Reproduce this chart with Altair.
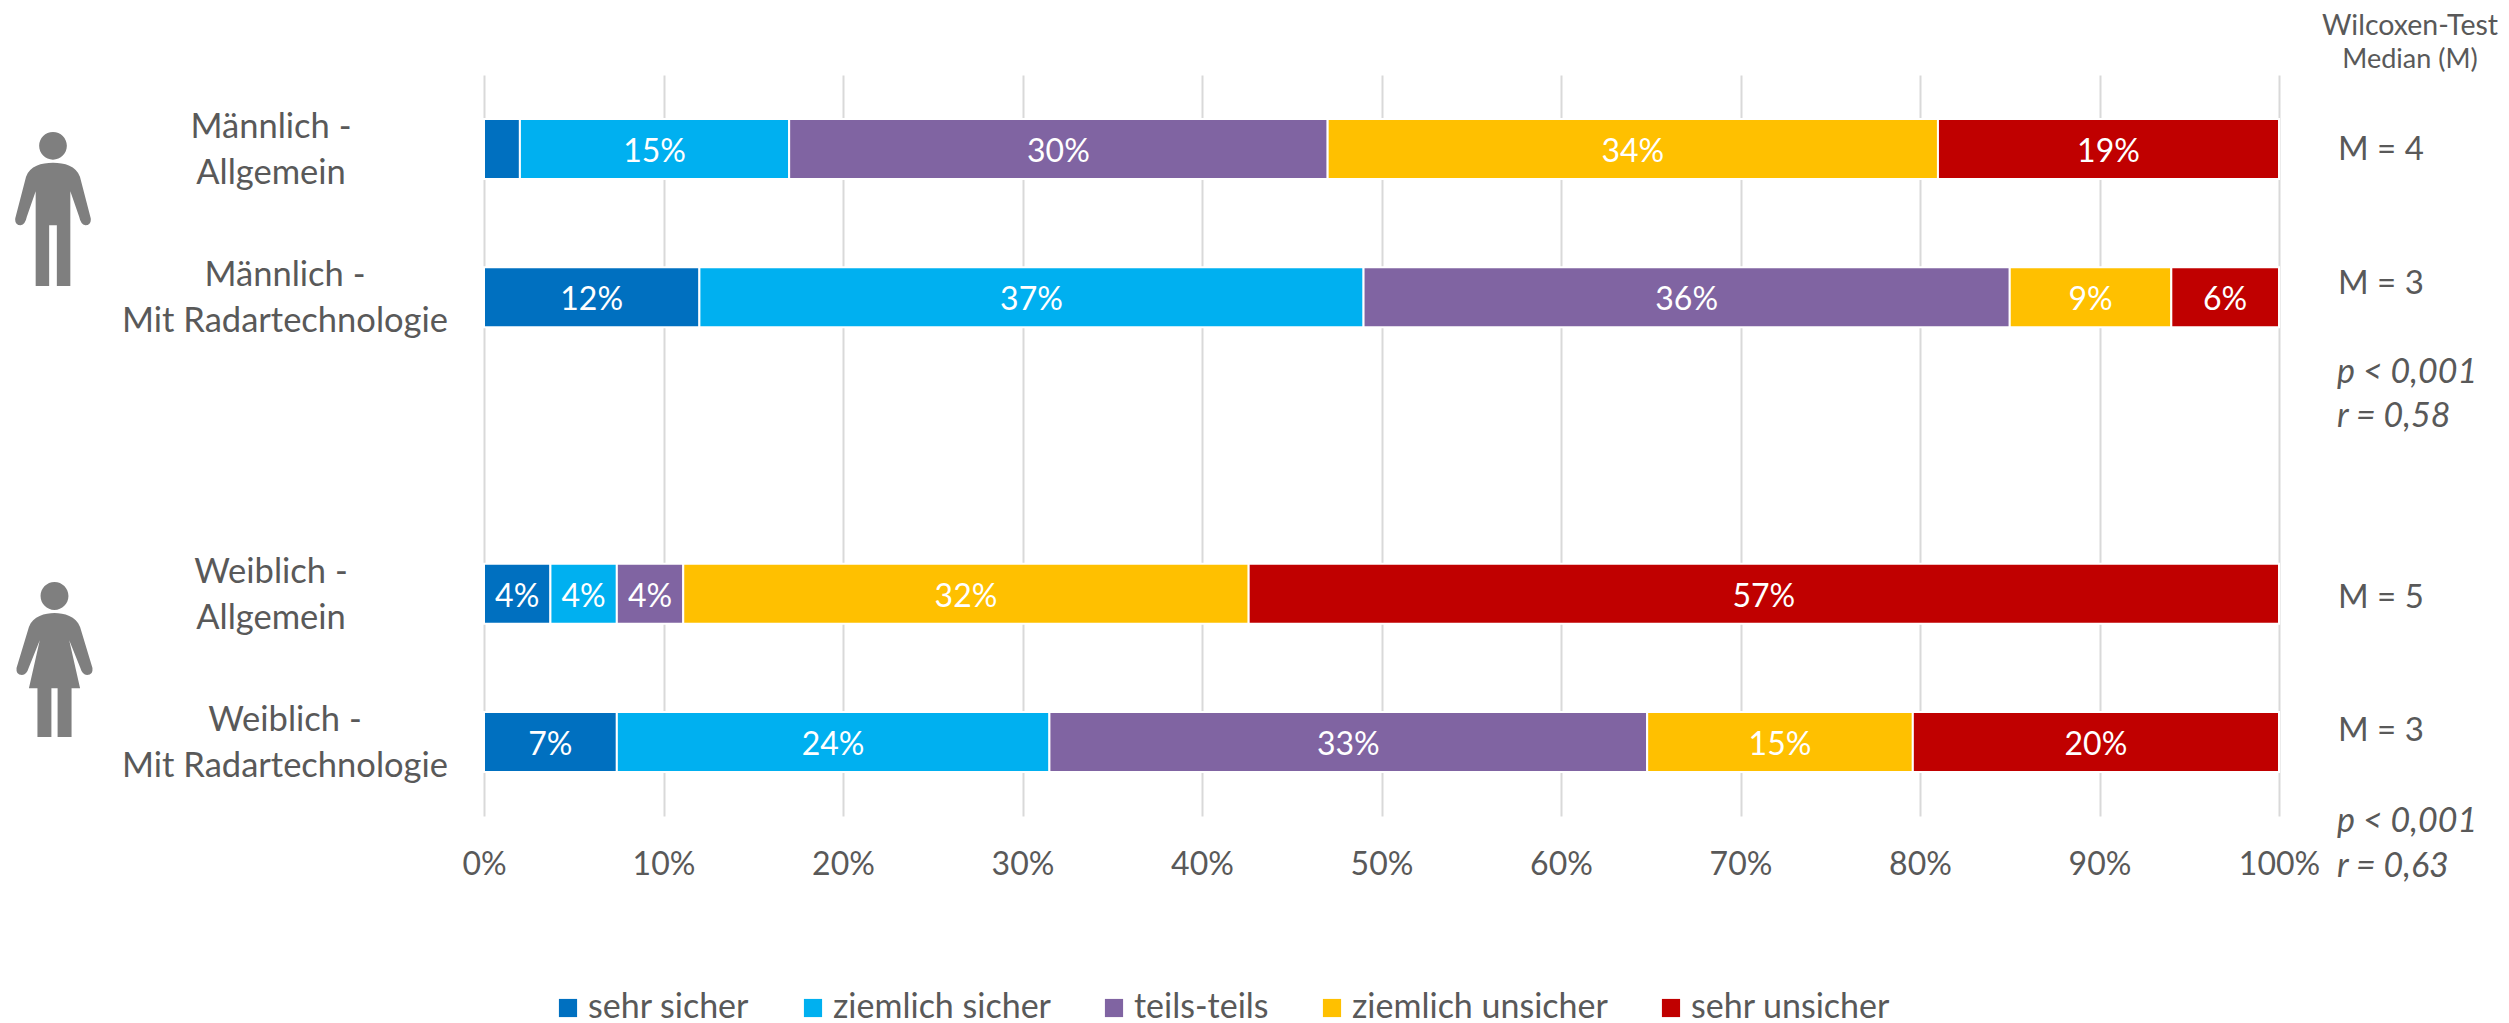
import altair as alt
import pandas as pd

CATEGORIES = ["Männlich - Allgemein", "Männlich - Mit Radartechnologie", " ",
              "Weiblich - Allgemein", "Weiblich - Mit Radartechnologie"]
SERIES = ["sehr sicher", "ziemlich sicher", "teils-teils", "ziemlich unsicher", "sehr unsicher"]
COLORS = ["#0070C0", "#00B0F0", "#8064A2", "#FFC000", "#C00000"]

MALE_GENERAL = [2.0, 15.0, 30.0, 34.0, 19.0]
MALE_RADAR = [12.0, 37.0, 36.0, 9.0, 6.0]
FEMALE_GENERAL = [3.7, 3.7, 3.7, 31.5, 57.4]
FEMALE_RADAR = [7.4, 24.1, 33.3, 14.8, 20.4]

MALE_GENERAL_LABELS = ["", "15%", "30%", "34%", "19%"]
MALE_RADAR_LABELS = ["12%", "37%", "36%", "9%", "6%"]
FEMALE_GENERAL_LABELS = ["4%", "4%", "4%", "32%", "57%"]
FEMALE_RADAR_LABELS = ["7%", "24%", "33%", "15%", "20%"]

GENERAL_ROWS = ["Männlich -|Allgemein", "Weiblich -|Allgemein"]
RADAR_ROWS = ["Männlich -|Mit Radartechnologie", "Weiblich -|Mit Radartechnologie"]

FONT = "Lato"
TEXT = "#595959"
GREY = "#7F7F7F"
FS_TICK = 32
FS_ROW = 34.5
FS_LEGEND = 34
FS_NOTE = 33

PLOT_W, PLOT_H = 1795, 741
PLOT_L, PLOT_T = 484, 75

rows = []
for cat, vals, labs in [
    (CATEGORIES[0], MALE_GENERAL, MALE_GENERAL_LABELS),
    (CATEGORIES[1], MALE_RADAR, MALE_RADAR_LABELS),
    (CATEGORIES[3], FEMALE_GENERAL, FEMALE_GENERAL_LABELS),
    (CATEGORIES[4], FEMALE_RADAR, FEMALE_RADAR_LABELS),
]:
    s = 0.0
    for i, (name, v, l) in enumerate(zip(SERIES, vals, labs)):
        rows.append(dict(cat=cat, series=name, order=i, start=s / 100, end=(s + v) / 100,
                         mid=(s + v / 2) / 100, label=l))
        s += v
df = pd.DataFrame(rows)

yscale = alt.Scale(domain=CATEGORIES, paddingInner=0, paddingOuter=0)
xscale = alt.Scale(domain=[0, 1], nice=False, zero=True)

bars = alt.Chart(df).mark_bar(size=60, stroke="white", strokeWidth=2).encode(
    y=alt.Y("cat:N", scale=yscale, axis=None),
    x=alt.X("start:Q", scale=xscale, title=None,
            axis=alt.Axis(format=".0%", values=[i / 10 for i in range(11)], domain=False, ticks=False,
                          grid=True, gridColor="#D9D9D9", gridWidth=2, labelFont=FONT, labelFontSize=FS_TICK,
                          labelColor=TEXT, labelPadding=33, labelFlush=False, labelBaseline="top")),
    x2="end:Q",
    color=alt.Color("series:N", sort=SERIES, scale=alt.Scale(domain=SERIES, range=COLORS),
                    legend=alt.Legend(title=None, orient="none", legendX=67, legendY=916, direction="horizontal",
                                      columns=5, symbolType="square", symbolSize=330, symbolStrokeWidth=0,
                                      labelFont=FONT, labelFontSize=FS_LEGEND, labelColor=TEXT, labelOffset=3,
                                      columnPadding=46, labelLimit=400)),
    order="order:Q",
)

values = alt.Chart(df[df.label != ""]).mark_text(font=FONT, fontSize=FS_TICK, color="white", dy=3).encode(
    y=alt.Y("cat:N", scale=yscale, axis=None),
    x=alt.X("mid:Q", scale=xscale),
    text="label:N",
)


def row_labels(names, cats, x):
    d = pd.DataFrame({"cat": cats, "t": names})
    return alt.Chart(d).transform_calculate(lines="split(datum.t, '|')").mark_text(
        font=FONT, fontSize=FS_ROW, color=TEXT, align="center", baseline="middle", lineHeight=46, dy=-21
    ).encode(y=alt.Y("cat:N", scale=yscale, axis=None), x=alt.value(x), text="lines:N")


general = row_labels(GENERAL_ROWS, [CATEGORIES[0], CATEGORIES[3]], 271 - PLOT_L)
radar = row_labels(RADAR_ROWS, [CATEGORIES[1], CATEGORIES[4]], 285 - PLOT_L)


def note(text, x, y, size=FS_NOTE, italic=False, align="left"):
    return alt.Chart(pd.DataFrame({"t": [text]})).mark_text(
        font=FONT, fontSize=size, color=TEXT, align=align, baseline="middle",
        fontStyle="italic" if italic else "normal",
    ).encode(x=alt.value(x - PLOT_L), y=alt.value(y - PLOT_T), text="t:N")


notes = [
    note("Wilcoxen-Test", 2410, 26, 28.5, align="center"),
    note("Median (M)", 2410, 60, 27, align="center"),
    note("M = 4", 2338, 150),
    note("M = 3", 2338, 284),
    note("p < 0,001", 2337, 373, 34, italic=True),
    note("r = 0,58", 2337, 417, 34, italic=True),
    note("M = 5", 2338, 598),
    note("M = 3", 2338, 731),
    note("p < 0,001", 2337, 822, 34, italic=True),
    note("r = 0,63", 2337, 867, 34, italic=True),
]

MAN = ("M0,-1 A.18,.18 0 1 1 0,-.64 A.18,.18 0 1 1 0,-1 Z "
       "M0,-.6 C.15,-.6 .3,-.56 .35,-.42 L.49,.12 Q.5,.21 .42,.21 Q.36,.2 .34,.1 L.225,-.23 L.225,1 L.05,1 L.05,.21 "
       "L-.05,.21 L-.05,1 L-.225,1 L-.225,-.23 L-.34,.1 Q-.36,.2 -.42,.21 Q-.5,.21 -.49,.12 L-.35,-.42 "
       "C-.3,-.56 -.15,-.6 0,-.6 Z")
WOMAN = ("M0,-1 A.18,.18 0 1 1 0,-.64 A.18,.18 0 1 1 0,-1 Z "
         "M0,-.6 C.12,-.6 .28,-.56 .33,-.42 L.49,.11 Q.5,.2 .42,.2 Q.36,.2 .33,.1 L.19,-.25 L.33,.37 L.22,.37 L.22,1 "
         "L.04,1 L.04,.37 L-.04,.37 L-.04,1 L-.22,1 L-.22,.37 L-.33,.37 L-.19,-.25 L-.33,.1 Q-.36,.2 -.42,.2 "
         "Q-.5,.2 -.49,.11 L-.33,-.42 C-.28,-.56 -.12,-.6 0,-.6 Z")


def icon(path, cx, cy, h):
    return alt.Chart(pd.DataFrame({"a": [0]})).mark_point(
        shape=path, size=h * h, filled=True, color=GREY, opacity=1, strokeWidth=0
    ).encode(x=alt.value(cx - PLOT_L), y=alt.value(cy - PLOT_T))


chart = alt.layer(
    bars, values, general, radar, *notes,
    icon(MAN, 53, 209, 154), icon(WOMAN, 54.5, 659.5, 155),
).properties(
    width=PLOT_W, height=PLOT_H,
    autosize=alt.AutoSizeParams(type="none"),
    padding={"left": PLOT_L - 8, "top": PLOT_T - 8, "right": 222, "bottom": 212},
).configure_view(stroke=None)

chart.save("out.html", embed_options={"renderer": "svg", "actions": False})
